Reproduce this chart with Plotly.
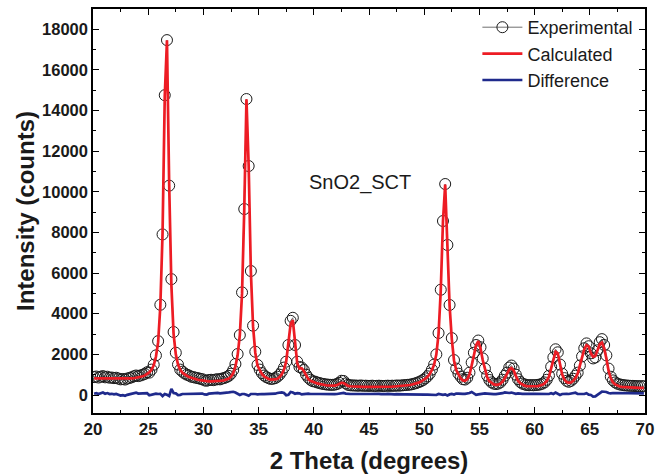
import numpy as np
import plotly.graph_objects as go

# 2-theta scan grid: 20.1 .. 69.9 deg, 0.2 deg step (250 points)
two_theta = np.round(np.arange(20.1, 70.0, 0.2), 1)

# Observed intensities (counts), in 5-degree blocks of 25 points
exp_20 = [880, 910, 860, 900, 930, 870, 900, 850, 860, 830, 850, 810, 770, 790, 760,
          810, 840, 870, 920, 960, 930, 960, 1000, 1040, 1120]
exp_25 = [1100, 1250, 1490, 1950, 2650, 4440, 7900, 14750, 17460, 10300, 5700, 3100, 2080,
          1500, 1250, 1150, 1060, 1000, 960, 900, 880, 850, 830, 800, 780]
exp_30 = [720, 700, 740, 750, 730, 760, 780, 770, 810, 840, 880, 940, 1050, 1230, 1525,
          2015, 2950, 5050, 9150, 14560, 11265, 6100, 3410, 2130, 1480]
exp_35 = [1250, 1080, 960, 880, 830, 790, 800, 830, 900, 1000, 1150, 1350, 1640, 2460,
          3650, 3800, 2460, 1640, 1380, 1350, 1230, 1000, 850, 750, 680]
exp_40 = [660, 620, 590, 560, 540, 520, 510, 500, 500, 510, 540, 600, 700, 690, 570, 500,
          480, 470, 470, 460, 460, 470, 450, 460, 450]
exp_45 = [450, 460, 440, 450, 460, 450, 440, 450, 460, 450, 460, 450, 470, 460, 470, 480,
          490, 500, 510, 530, 560, 590, 630, 680, 740]
exp_50 = [820, 920, 1050, 1250, 1500, 2000, 3050, 5180, 8560, 10380, 7380, 4430, 2800,
          1720, 1300, 1050, 900, 780, 760, 850, 1100, 1600, 2080, 2460, 2680]
exp_55 = [2350, 1800, 1300, 950, 740, 620, 560, 540, 560, 620, 750, 950, 1100, 1350, 1450,
          1300, 1000, 780, 640, 560, 520, 490, 480, 490, 480]
exp_60 = [490, 500, 520, 560, 620, 750, 950, 1390, 1850, 2250, 2100, 1500, 1050, 830, 700,
          650, 700, 800, 950, 1100, 1450, 1900, 2300, 2540, 2400]
exp_65 = [2050, 1800, 1850, 2200, 2600, 2750, 2460, 1950, 1300, 900, 720, 620, 560, 520,
          500, 480, 470, 460, 450, 450, 440, 440, 430, 440, 430]

# Rietveld-calculated profile (counts), same grid
calc_20 = [820, 818, 815, 812, 810, 808, 805, 802, 800, 798, 796, 795, 795, 796, 798,
           802, 808, 815, 825, 840, 860, 885, 920, 965, 1030]
calc_25 = [1110, 1240, 1460, 1880, 2600, 4380, 7950, 14700, 17450, 10350, 5400, 3000, 2000,
           1500, 1240, 1100, 1010, 945, 890, 845, 805, 775, 750, 730, 710]
calc_30 = [690, 680, 675, 672, 672, 675, 680, 690, 705, 725, 760, 810, 900, 1070, 1400,
           1950, 2950, 5000, 9100, 14550, 11300, 6050, 3350, 2080, 1450]
calc_35 = [1200, 1030, 920, 840, 790, 760, 750, 765, 800, 880, 1020, 1250, 1650, 2450,
           3500, 3680, 2400, 1550, 1300, 1320, 1180, 950, 780, 700, 640]
calc_40 = [610, 570, 540, 515, 495, 480, 468, 460, 458, 465, 490, 540, 600, 590, 500, 450,
           430, 420, 415, 410, 408, 405, 403, 402, 400]
calc_45 = [400, 400, 400, 400, 401, 402, 403, 405, 407, 410, 414, 418, 424, 430, 438, 448,
           460, 475, 492, 515, 540, 570, 610, 660, 720]
calc_50 = [800, 900, 1030, 1230, 1500, 2000, 3000, 5150, 8550, 10350, 7400, 4400, 2750,
           1700, 1230, 980, 820, 720, 700, 780, 1000, 1450, 2000, 2450, 2650]
calc_55 = [2300, 1720, 1220, 880, 690, 580, 520, 500, 510, 560, 660, 820, 1000, 1250, 1330,
           1220, 940, 700, 580, 500, 460, 440, 430, 428, 428]
calc_60 = [430, 440, 460, 500, 570, 690, 900, 1300, 1800, 2130, 2050, 1500, 1000, 760, 640,
           600, 620, 700, 840, 1050, 1400, 1850, 2250, 2450, 2380]
calc_65 = [2050, 1880, 1920, 2200, 2500, 2580, 2300, 1800, 1200, 820, 620, 520, 460, 420,
           400, 390, 380, 375, 370, 365, 360, 358, 355, 353, 350]

experimental = np.array(exp_20 + exp_25 + exp_30 + exp_35 + exp_40 +
                        exp_45 + exp_50 + exp_55 + exp_60 + exp_65)
calculated = np.array(calc_20 + calc_25 + calc_30 + calc_35 + calc_40 +
                      calc_45 + calc_50 + calc_55 + calc_60 + calc_65)
difference = experimental - calculated

x_ticks = [20, 25, 30, 35, 40, 45, 50, 55, 60, 65, 70]
y_ticks = [0, 2000, 4000, 6000, 8000, 10000, 12000, 14000, 16000, 18000]

fig = go.Figure()
fig.add_trace(go.Scatter(
    x=two_theta, y=experimental, name="Experimental", mode="lines+markers",
    line=dict(color="#6e6e6e", width=1),
    marker=dict(symbol="circle-open", size=11, color="#1a1a1a", line=dict(width=1)),
))
fig.add_trace(go.Scatter(
    x=two_theta, y=calculated, name="Calculated", mode="lines",
    line=dict(color="#ed1c24", width=2.7),
))
fig.add_trace(go.Scatter(
    x=two_theta, y=difference, name="Difference", mode="lines",
    line=dict(color="#1f2a8c", width=2.7),
))

fig.add_annotation(x=44.2, y=10450, text="SnO2_SCT", showarrow=False,
                   font=dict(size=20, color="#1a1a1a"))

axis_common = dict(
    showline=True, linecolor="black", linewidth=1.5, mirror="ticks",
    ticks="inside", ticklen=6, tickwidth=1.3, tickcolor="black",
    showgrid=False, zeroline=False, automargin=False,
)

fig.update_xaxes(
    range=[20, 70], tickvals=x_ticks, tickformat="d",
    tickfont=dict(size=17, color="#1a1a1a", weight="bold"),
    minor=dict(ticks="inside", ticklen=3, tickwidth=1.2, tickcolor="black", dtick=2.5),
    title=dict(text="2 Theta (degrees)", font=dict(size=24, color="#1a1a1a", weight="bold"),
               standoff=14),
    **axis_common,
)
fig.update_yaxes(
    range=[-885, 18990], tickvals=y_ticks, tickformat="d",
    tickfont=dict(size=16.5, color="#1a1a1a", weight="bold"),
    minor=dict(ticks="inside", ticklen=3, tickwidth=1.2, tickcolor="black", dtick=1000),
    title=dict(text="Intensity (counts)", font=dict(size=24, color="#1a1a1a", weight="bold"),
               standoff=1),
    **axis_common,
)

fig.update_layout(
    width=656, height=475,
    margin=dict(l=93, r=11, t=9, b=62),
    plot_bgcolor="white", paper_bgcolor="white",
    font=dict(family="Arial, Liberation Sans, sans-serif", color="#1a1a1a"),
    legend=dict(x=0.988, y=1.0, xanchor="right", yanchor="top",
                bgcolor="rgba(0,0,0,0)", font=dict(size=18), tracegroupgap=0,
                itemwidth=40),
    showlegend=True,
)

fig.write_html("out.html")
